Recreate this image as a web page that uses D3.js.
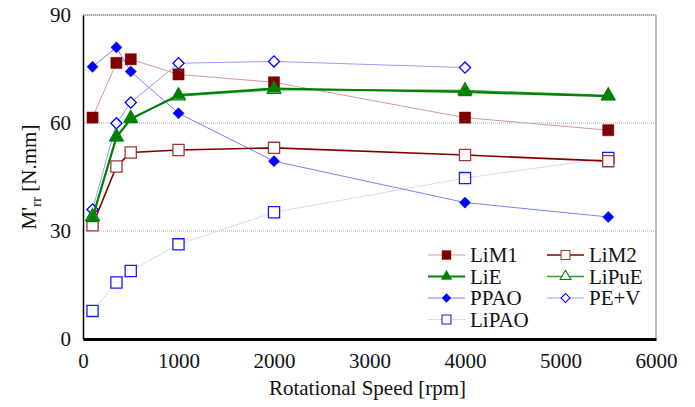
<!DOCTYPE html>
<html>
<head>
<meta charset="UTF-8">
<title>Rolling resistance moment</title>
<script src="https://d3js.org/d3.v7.min.js"></script>
</head>
<body style="margin:0; background:#fff">
<svg class="chart"></svg>
<script>
// rotational speeds [rpm]
const speeds = [100, 350, 500, 1000, 2000, 4000, 5500];

// M'rr [N.mm] per lubricant
const liM1  = [61.5, 76.7, 77.7, 73.5, 71.3, 61.5, 58.0];
const liM2  = [31.6, 47.9, 51.8, 52.5, 53.1, 51.1, 49.4];
const liE   = [33.6, 56.0, 61.1, 67.8, 69.6, 68.6, 67.4];
const liPuE = [34.0, 56.2, 61.3, 67.5, 69.3, 69.0, 67.6];
const ppao  = [75.6, 81.0, 74.3, 62.7, 49.4, 37.9, 33.9];
const peV   = [36.0, 59.9, 65.7, 76.6, 77.1, 75.4, null];
const liPAO = [7.8, 15.7, 18.9, 26.3, 35.2, 44.7, 50.3];

const xTicks = [0, 1000, 2000, 3000, 4000, 5000, 6000];
const yTicks = [0, 30, 60, 90];

const series = [
    {name: "LiPAO", values: liPAO, line: "#c4c4ff", lw: 1, dash: "2,1", shape: "square", fill: "#fff", stroke: "#1a1aff"},
    {name: "PE+V", values: peV, line: "#9a9aff", lw: 1, shape: "diamond", fill: "#fff", stroke: "#0000ff"},
    {name: "PPAO", values: ppao, line: "#7f7fff", lw: 1, shape: "diamond", fill: "#0000ff", stroke: "#0000ff"},
    {name: "LiM1", values: liM1, line: "#d09a9a", lw: 1, shape: "square", fill: "#800000", stroke: "#800000"},
    {name: "LiM2", values: liM2, line: "#800000", lw: 1.6, shape: "square", fill: "#fff", stroke: "#a03838"},
    {name: "LiPuE", values: liPuE, line: "#2a9a2a", lw: 1.6, shape: "triangle", fill: "#fff", stroke: "#008000"},
    {name: "LiE", values: liE, line: "#008000", lw: 2, shape: "triangle", fill: "#008000", stroke: "#008000"}
];
const legendOrder = ["LiM1", "LiM2", "LiE", "LiPuE", "PPAO", "PE+V", "LiPAO"];

const FONT = '"Liberation Serif", serif';

const W = 695, H = 407;
const margins = {top: 15, bottom: 68, left: 83, right: 39};
const width = W - margins.left - margins.right;
const height = H - margins.top - margins.bottom;

const svg = d3.select(".chart").attr("width", W).attr("height", H);
const chart = svg.append("g").attr("transform", `translate(${margins.left}, ${margins.top})`);

const x = d3.scaleLinear().domain([0, 6000]).range([0, width]);
const y = d3.scaleLinear().domain([0, 90]).range([height, 0]);

// grid lines at 30 and 60, dashed top frame, grey right frame
chart.selectAll(".grid").data([30, 60]).enter().append("line")
    .attr("x1", 0).attr("x2", width)
    .attr("y1", d => y(d)).attr("y2", d => y(d))
    .style("stroke", "#aaa").style("stroke-width", 1).style("stroke-dasharray", "1,1");
chart.append("line").attr("x1", 0).attr("x2", width).attr("y1", y(90)).attr("y2", y(90))
    .style("stroke", "#555").style("stroke-width", 1).style("stroke-dasharray", "1.5,0.5");
chart.append("line").attr("x1", width).attr("x2", width).attr("y1", y(90)).attr("y2", height)
    .style("stroke", "#bbb").style("stroke-width", 2);

// axes
const xAxis = chart.append("g").attr("transform", `translate(0, ${height})`)
    .call(d3.axisBottom(x).tickValues(xTicks).tickSize(0).tickPadding(14).tickFormat(d3.format("d")));
xAxis.select(".domain").style("stroke", "#000").style("stroke-width", 3);
const yAxis = chart.append("g")
    .call(d3.axisLeft(y).tickValues(yTicks).tickSize(0).tickPadding(12));
yAxis.select(".domain").style("stroke", "#000").style("stroke-width", 1.5);
chart.selectAll(".tick text")
    .style("font-family", FONT).style("font-size", "21px").style("fill", "#111");

// markers
const symbolFor = {square: d3.symbolSquare, diamond: d3.symbolSquare, triangle: d3.symbolTriangle};
const sizeFor = {square: 125, diamond: 62, triangle: 78};
function marker(g, s, k) {
    const rot = s.shape === "diamond" ? " rotate(45)" : "";
    return g.append("path")
        .attr("d", d3.symbol().type(symbolFor[s.shape]).size(sizeFor[s.shape])())
        .attr("transform", `scale(${k || 1})${rot}`)
        .style("fill", s.fill).style("stroke", s.stroke)
        .style("stroke-width", s.fill === "#fff" ? 1.3 : 0.5);
}

const line = d3.line()
    .defined(d => d.v !== null)
    .x(d => x(d.s)).y(d => y(d.v));

series.forEach(s => {
    const pts = speeds.map((sp, i) => ({s: sp, v: s.values[i]}));
    chart.append("path").datum(pts)
        .attr("d", line)
        .style("fill", "none").style("stroke", s.line).style("stroke-width", s.lw)
        .style("stroke-dasharray", s.dash || null);
    pts.filter(d => d.v !== null).forEach(d => {
        const g = chart.append("g").attr("transform", `translate(${x(d.s)}, ${y(d.v)})`);
        marker(g, s);
    });
});

// legend
const legend = svg.append("g");
legendOrder.forEach((name, i) => {
    const s = series.find(t => t.name === name);
    const col = i % 2, row = Math.floor(i / 2);
    const lx = col === 0 ? 428 : 547;
    const ly = 255 + row * 21.5;
    const g = legend.append("g").attr("transform", `translate(${lx}, ${ly})`);
    g.append("line").attr("x1", 0).attr("x2", 37).attr("y1", 0).attr("y2", 0)
        .style("stroke", s.line).style("stroke-width", s.lw).style("stroke-dasharray", s.dash || null);
    const m = g.append("g").attr("transform", "translate(18.5, 0)");
    marker(m, s, 0.8);
    g.append("text").attr("x", 42).attr("y", 7)
        .style("font-family", FONT).style("font-size", "21px").style("fill", "#111")
        .text(name);
});

// axis titles
svg.append("text")
    .attr("text-anchor", "middle")
    .attr("x", margins.left + x(3000) - 2).attr("y", 395)
    .style("font-family", FONT).style("font-size", "21px").style("fill", "#111")
    .text("Rotational Speed [rpm]");

const yl = svg.append("text")
    .attr("text-anchor", "middle")
    .attr("transform", `translate(36, ${margins.top + height / 2}) rotate(-90)`)
    .style("font-family", FONT).style("font-size", "21px").style("fill", "#111");
yl.append("tspan").text("M'");
yl.append("tspan").attr("dy", 5).style("font-size", "15px").text("rr");
yl.append("tspan").attr("dy", -5).text(" [N.mm]");
</script>
</body>
</html>
